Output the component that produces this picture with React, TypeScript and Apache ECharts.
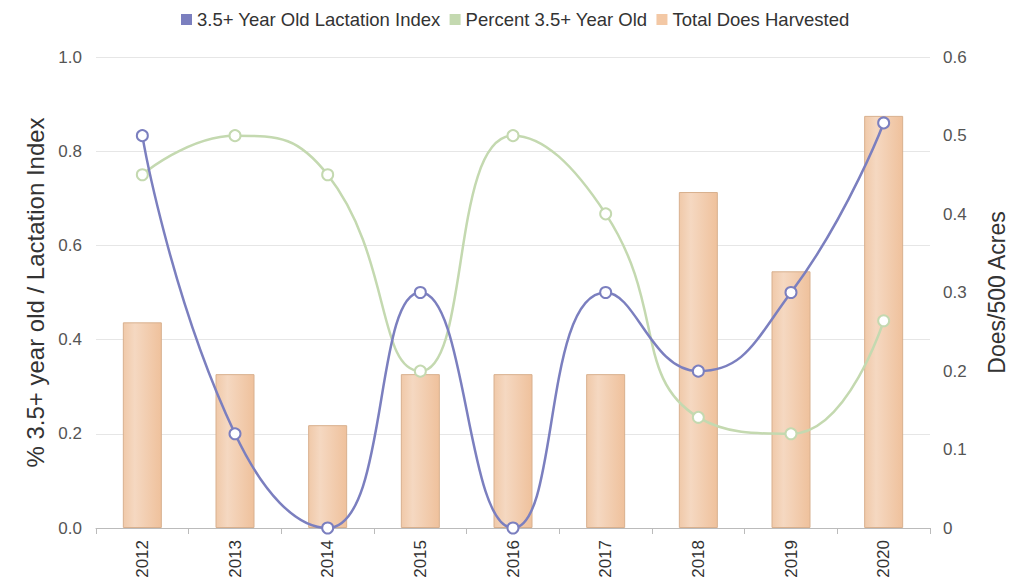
import React, { useEffect, useRef } from "react";
import * as echarts from "echarts";

const years = ["2012", "2013", "2014", "2015", "2016", "2017", "2018", "2019", "2020"];
const lactationIndex = [0.833, 0.2, 0, 0.5, 0, 0.5, 0.333, 0.5, 0.86];
const percentOld = [0.75, 0.833, 0.75, 0.333, 0.833, 0.667, 0.235, 0.2, 0.44];
const doesHarvested = [0.262, 0.196, 0.131, 0.196, 0.196, 0.196, 0.428, 0.327, 0.525];

const FONT = "'Liberation Sans', Arial, sans-serif";
const PURPLE = "#7b7fbf";
const GREEN = "#c4d9b0";
const ORANGE = "#f3c8a5";

export default function App() {
  const ref = useRef<HTMLDivElement>(null);
  useEffect(() => {
    if (!ref.current) return;
    const chart = echarts.init(ref.current, undefined, { renderer: "svg" });
    chart.setOption({
      animation: false,
      textStyle: { fontFamily: FONT },
      legend: {
        top: 5,
        left: 176,
        itemWidth: 11,
        itemHeight: 11,
        itemGap: 9,
        icon: "rect",
        textStyle: { fontSize: 18.5, color: "#333", fontFamily: FONT },
        data: [
          { name: "3.5+ Year Old Lactation Index", itemStyle: { color: PURPLE, borderWidth: 0 } },
          { name: "Percent 3.5+ Year Old", itemStyle: { color: GREEN, borderWidth: 0 } },
          { name: "Total Does Harvested", itemStyle: { color: ORANGE, borderWidth: 0 } },
        ],
      },
      grid: { left: 96, right: 79, top: 57, bottom: 58, containLabel: false, outerBoundsMode: "none" },
      xAxis: {
        type: "category",
        data: years,
        boundaryGap: true,
        axisLine: { lineStyle: { color: "#bbbbbb", width: 1 } },
        axisTick: { show: true, alignWithLabel: false, length: 6, lineStyle: { color: "#bbbbbb" } },
        axisLabel: { rotate: 90, fontSize: 17, color: "#333", margin: 12, fontFamily: FONT },
      },
      yAxis: [
        {
          type: "value",
          min: 0,
          max: 1,
          interval: 0.2,
          name: "% 3.5+ year old / Lactation Index",
          nameLocation: "middle",
          nameRotate: 90,
          nameGap: 47,
          nameTextStyle: { fontSize: 24, color: "#333", fontFamily: FONT },
          axisLine: { show: false },
          axisTick: { show: false },
          axisLabel: { fontSize: 17, color: "#555", margin: 14, formatter: (v: number) => v.toFixed(1) },
          splitLine: { lineStyle: { color: "#e6e6e6", width: 1 } },
        },
        {
          type: "value",
          min: 0,
          max: 0.6,
          interval: 0.1,
          position: "right",
          name: "Does/500 Acres",
          nameLocation: "middle",
          nameRotate: 90,
          nameGap: 55,
          nameTextStyle: { fontSize: 23, color: "#333", fontFamily: FONT },
          axisLine: { show: false },
          axisTick: { show: false },
          axisLabel: {
            fontSize: 17,
            color: "#555",
            margin: 13,
            formatter: (v: number) => (v === 0 ? "0" : v.toFixed(1)),
          },
          splitLine: { show: false },
        },
      ],
      series: [
        {
          name: "Total Does Harvested",
          type: "bar",
          yAxisIndex: 1,
          data: doesHarvested,
          barWidth: 39,
          itemStyle: {
            color: new echarts.graphic.LinearGradient(0, 0, 1, 0, [
              { offset: 0, color: "#f0c9a9" },
              { offset: 0.3, color: "#f5d8c1" },
              { offset: 1, color: "#efc19c" },
            ]),
            borderColor: "#d8b08e",
            borderWidth: 1,
          },
          z: 1,
        },
        {
          name: "3.5+ Year Old Lactation Index",
          type: "line",
          yAxisIndex: 0,
          data: lactationIndex,
          smooth: 0.5,
          symbol: "circle",
          symbolSize: 11,
          color: PURPLE,
          lineStyle: { color: PURPLE, width: 2.5 },
          itemStyle: { color: "#ffffff", borderColor: PURPLE, borderWidth: 2 },
          z: 3,
        },
        {
          name: "Percent 3.5+ Year Old",
          type: "line",
          yAxisIndex: 0,
          data: percentOld,
          smooth: 0.5,
          symbol: "circle",
          symbolSize: 11,
          color: GREEN,
          lineStyle: { color: GREEN, width: 2.5 },
          itemStyle: { color: "#ffffff", borderColor: GREEN, borderWidth: 2 },
          z: 2,
        },
      ],
    });
    return () => chart.dispose();
  }, []);
  return <div ref={ref} style={{ width: 1009, height: 586, position: "absolute", left: 0, top: 0 }} />;
}
